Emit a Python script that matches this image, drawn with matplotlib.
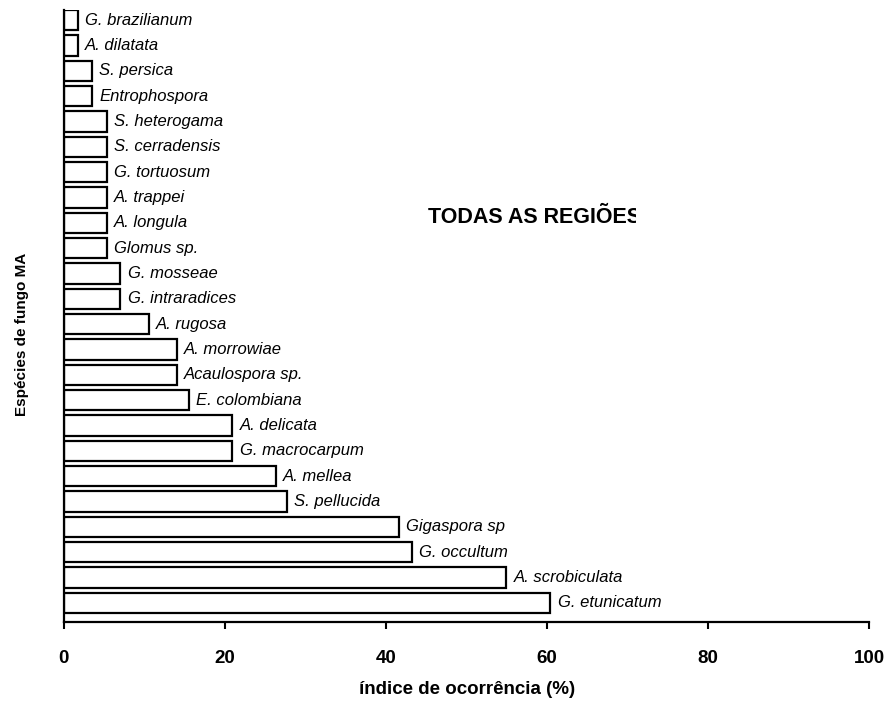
import matplotlib
matplotlib.use("Agg")
import matplotlib.pyplot as plt
from matplotlib.transforms import Bbox, TransformedBbox

plt.rcParams["font.family"] = ["Liberation Sans", "DejaVu Sans"]

# espécies, de baixo para cima
especies = [
    "G. etunicatum", "A. scrobiculata", "G. occultum", "Gigaspora sp",
    "S. pellucida", "A. mellea", "G. macrocarpum", "A. delicata",
    "E. colombiana", "Acaulospora sp.", "A. morrowiae", "A. rugosa",
    "G. intraradices", "G. mosseae", "Glomus sp.", "A. longula",
    "A. trappei", "G. tortuosum", "S. cerradensis", "S. heterogama",
    "Entrophospora", "S. persica", "A. dilatata", "G. brazilianum",
]
indice = [
    60.4, 54.9, 43.2, 41.6,
    27.7, 26.3, 20.9, 20.9,
    15.5, 14.0, 14.0, 10.5,
    7.0, 7.0, 5.3, 5.3,
    5.3, 5.3, 5.3, 5.3,
    3.5, 3.5, 1.7, 1.7,
]
xticks = [0, 20, 40, 60, 80, 100]

fig = plt.figure(figsize=(8.88, 7.08), dpi=100)
ax = fig.add_axes([0.072, 0.1215, 0.907, 0.8645])

pos = list(range(len(especies)))
ax.barh(pos, indice, height=0.8, color="white", edgecolor="black", linewidth=1.6)

for y, v, nome in zip(pos, indice, especies):
    ax.text(v + 0.9, y, nome, style="italic", fontsize=12, va="center", ha="left")

# título cortado na borda direita, como no original
t = ax.text(45.2, 15.2, "TODAS AS REGIÕES", fontsize=15.5, fontweight="bold",
            va="center", ha="left")
t.set_clip_on(True)
t.set_clip_path(None)
t.set_clip_box(TransformedBbox(Bbox([[0, -1], [71.0, 24]]), ax.transData))

ax.set_xlim(0, 100)
ax.set_ylim(-0.75, 23.4)
ax.set_xticks(xticks)
ax.set_xticklabels([str(x) for x in xticks], fontsize=13.5, fontweight="bold")
ax.tick_params(axis="x", direction="out", length=5, width=1.5, pad=15)
ax.set_yticks([])
ax.spines["top"].set_visible(False)
ax.spines["right"].set_visible(False)
ax.spines["left"].set_linewidth(1.6)
ax.spines["bottom"].set_linewidth(1.6)

ax.set_xlabel("índice de ocorrência (%)", fontsize=13.5, fontweight="bold", labelpad=10)
ax.set_ylabel("Espécies de fungo MA", fontsize=11, fontweight="bold")
ax.yaxis.set_label_coords(-0.043, 0.47)

fig.savefig("out.png", dpi=100)
